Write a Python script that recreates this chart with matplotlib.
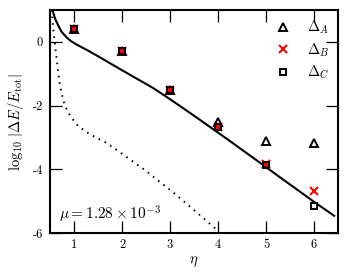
import matplotlib
matplotlib.use("Agg")
import matplotlib.pyplot as plt
import numpy as np

plt.rcParams['mathtext.fontset'] = 'cm'
plt.rcParams['font.family'] = 'cmr10'
plt.rcParams['axes.unicode_minus'] = False
plt.rcParams['axes.formatter.use_mathtext'] = True

eta = [1, 2, 3, 4, 5, 6]
delta_A = [0.40, -0.28, -1.50, -2.53, -3.10, -3.18]
delta_B = [0.40, -0.28, -1.50, -2.66, -3.83, -4.68]
delta_C = [0.40, -0.28, -1.50, -2.68, -3.86, -5.15]

solid_x = [0.55, 0.58, 0.62, 0.67, 0.74, 0.85, 0.95, 1.05, 1.15, 1.3, 1.51, 2.0, 2.65, 3.1, 3.625, 4.18, 5.0, 5.29, 6.0, 6.42]
solid_y = [1.0, 0.85, 0.68, 0.52, 0.32, 0.13, 0.01, -0.08, -0.16, -0.28, -0.46, -0.89, -1.45, -1.90, -2.45, -3.04, -3.93, -4.25, -5.02, -5.46]

dot_x = [0.54, 0.55, 0.57, 0.60, 0.64, 0.69, 0.74, 0.81, 0.92, 1.09, 1.33, 1.65, 1.85, 2.5, 3.07, 3.5, 4.0]
dot_y = [1.0, 0.74, 0.38, -0.04, -0.55, -1.20, -1.62, -2.00, -2.33, -2.65, -2.90, -3.15, -3.35, -4.05, -4.73, -5.28, -5.93]

xticks = [1, 2, 3, 4, 5, 6]
yticks = [-6, -4, -2, 0]

fig = plt.figure(figsize=(3.49, 2.75), dpi=100)
ax = fig.add_axes([50/349, 42/275, 288/349, 223/275])

ax.plot(solid_x, solid_y, color='black', lw=1.5, zorder=2)
ax.plot(dot_x, dot_y, color='black', lw=1.4, linestyle=(0, (0.8, 2.6)), zorder=2)

ax.plot(eta, delta_A, linestyle='none', marker='^', mfc='none', mec='black', mew=1.4, ms=5.5,
        label=r'$\Delta_A$', zorder=3)
ax.plot(eta, delta_B, linestyle='none', marker='x', color='red', mew=1.5, ms=5.5,
        label=r'$\Delta_B$', zorder=4)
ax.plot(eta, delta_C, linestyle='none', marker='s', mfc='none', mec='black', mew=1.4, ms=5,
        label=r'$\Delta_C$', zorder=5)

ax.set_xlim(0.5, 6.5)
ax.set_ylim(-6, 1)
ax.set_xticks(xticks)
ax.set_yticks(yticks)
ax.set_xticklabels([str(v) for v in xticks])
ax.set_yticklabels([str(v) for v in yticks])
ax.tick_params(direction='in', length=8.5, width=0.9, top=True, right=True, labelsize=9)
ax.tick_params(axis='x', pad=4)
ax.tick_params(axis='y', pad=5)
for s in ax.spines.values():
    s.set_linewidth(1.5)

ax.set_xlabel(r'$\eta$', fontsize=10.5, labelpad=3)
ax.set_ylabel(r'$\log_{10}\,|\Delta E/E_{\mathrm{tot}}|$', fontsize=10.5, labelpad=5)

ax.text(0.03, 0.085, r'$\mu = 1.28 \times 10^{-3}$', transform=ax.transAxes, fontsize=11,
        ha='left', va='center')

ax.legend(loc='upper right', frameon=False, fontsize=10.5, handletextpad=1.0,
          handlelength=1.2, borderaxespad=0.2, labelspacing=0.35)

fig.savefig('out.png', dpi=100)
